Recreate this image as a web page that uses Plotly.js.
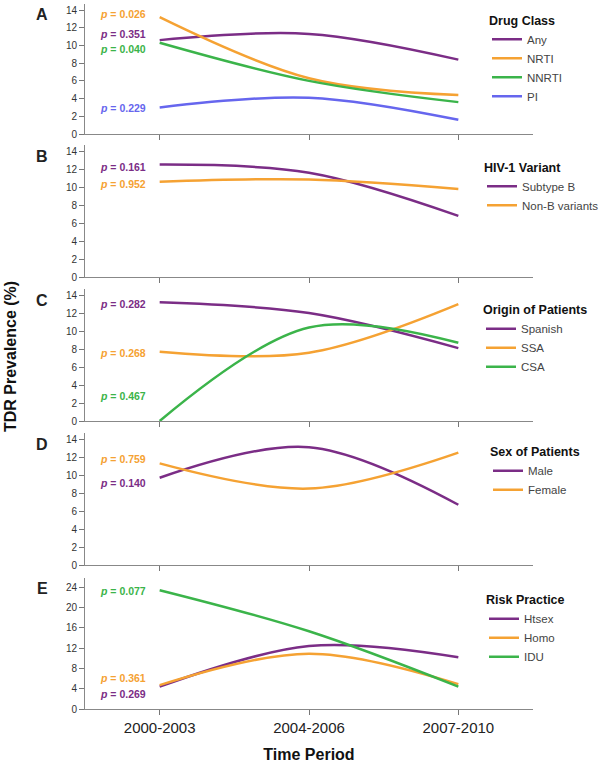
<!DOCTYPE html>
<html>
<head>
<meta charset="utf-8">
<script src="https://cdn.plot.ly/plotly-3.0.1.min.js"></script>
<style>
  html, body { margin: 0; padding: 0; background: #fff; }
  #chart { width: 602px; height: 763px; }
</style>
</head>
<body>
<div id="chart"></div>
<script>
// periods on the x axis
const periods = ['2000-2003', '2004-2006', '2007-2010'];

// A - drug class
const anyDrug = [10.6, 11.3, 8.4];
const nrti = [13.2, 6.3, 4.4];
const nnrti = [10.3, 6.0, 3.6];
const pi = [3.0, 4.1, 1.6];
// B - HIV-1 variant
const subtypeB = [12.5, 11.6, 6.8];
const nonB = [10.6, 10.85, 9.8];
// C - origin of patients
const spanish = [13.2, 12.0, 8.1];
const ssa = [7.7, 7.6, 13.0];
const csa = [0, 10.4, 8.7];
// D - sex of patients
const male = [9.7, 13.1, 6.7];
const female = [11.3, 8.5, 12.5];
// E - risk practice
const htsex = [4.4, 12.4, 10.2];
const homo = [4.7, 10.9, 4.9];
const idu = [23.4, 15.3, 4.4];

const purple = '#7B2D86', orange = '#F5A233', green = '#3BB44A', blue = '#6666EE';

// panels : letter, legend title, series, p values
const panels = [
  { letter: 'A', title: 'Drug Class', ymax: 14.68, dtick: 2,
    series: [['Any', anyDrug, purple], ['NRTI', nrti, orange], ['NNRTI', nnrti, green], ['PI', pi, blue]],
    pvals: [['0.026', orange, 14], ['0.351', purple, 33.7], ['0.040', green, 49], ['0.229', blue, 108]] },
  { letter: 'B', title: 'HIV-1 Variant', ymax: 14.68, dtick: 2,
    series: [['Subtype B', subtypeB, purple], ['Non-B variants', nonB, orange]],
    pvals: [['0.161', purple, 166.7], ['0.952', orange, 184.3]] },
  { letter: 'C', title: 'Origin of Patients', ymax: 14.68, dtick: 2,
    series: [['Spanish', spanish, purple], ['SSA', ssa, orange], ['CSA', csa, green]],
    pvals: [['0.282', purple, 304], ['0.268', orange, 352.7], ['0.467', green, 396]] },
  { letter: 'D', title: 'Sex of Patients', ymax: 14.68, dtick: 2,
    series: [['Male', male, purple], ['Female', female, orange]],
    pvals: [['0.759', orange, 459], ['0.140', purple, 482.7]] },
  { letter: 'E', title: 'Risk Practice', ymax: 25.8, dtick: 4,
    series: [['Htsex', htsex, purple], ['Homo', homo, orange], ['IDU', idu, green]],
    pvals: [['0.077', green, 591], ['0.361', orange, 677.7], ['0.269', purple, 694]] }
];

// pixel layout of the panels (top, bottom) and legends
const H = 763, W = 602;
const panelPx = [[4, 134], [145, 277], [289, 421], [433, 565], [578, 709]];
const letterPx = [14, 156.7, 300.7, 444, 588.3];
const legendPx = [[487, 8.5], [482, 155.5], [481, 298], [488, 440], [484, 588]];
const py = px => 1 - px / H;

const data = [];
const annotations = [];
const layout = {
  width: W, height: H,
  margin: { l: 0, r: 0, t: 0, b: 0, autoexpand: false },
  paper_bgcolor: '#fff', plot_bgcolor: '#fff',
  font: { family: 'Liberation Sans, Arial, sans-serif', color: '#222' },
  showlegend: true,
  annotations: annotations
};

panels.forEach((p, i) => {
  const n = i === 0 ? '' : String(i + 1);
  const legendName = 'legend' + n;
  p.series.forEach(s => {
    data.push({
      x: periods, y: s[1], name: s[0],
      type: 'scatter', mode: 'lines',
      line: { color: s[2], width: 2.5, shape: 'spline', smoothing: 1 },
      xaxis: 'x' + n, yaxis: 'y' + n, legend: legendName,
      hoverinfo: 'skip'
    });
  });

  layout['xaxis' + n] = {
    domain: [85 / W, 533 / W],
    anchor: 'y' + n,
    type: 'category',
    range: [-0.5, 2.5],
    showline: true, linecolor: '#888', linewidth: 1,
    ticks: 'outside', ticklen: 5, tickcolor: '#777',
    showgrid: false, zeroline: false,
    showticklabels: i === 4,
    tickfont: { size: 15, color: '#222' },
    title: i === 4 ? { text: '<b>Time Period</b>', font: { size: 16, color: '#111' }, standoff: 14 } : { text: '' }
  };
  layout['yaxis' + n] = {
    domain: [py(panelPx[i][1]), py(panelPx[i][0])],
    anchor: 'x' + n,
    range: [0, p.ymax],
    dtick: p.dtick,
    showline: true, linecolor: '#888', linewidth: 1,
    ticks: 'outside', ticklen: 5, tickcolor: '#777',
    showgrid: false, zeroline: false,
    tickfont: { size: 10, color: '#333' }
  };
  layout[legendName] = {
    x: legendPx[i][0] / W, y: py(legendPx[i][1]),
    xanchor: 'left', yanchor: 'top',
    bgcolor: 'rgba(0,0,0,0)',
    title: { text: '<b>' + p.title + '</b>', font: { size: 12.5, color: '#111' }, side: 'top' },
    font: { size: 11.5, color: '#444' },
    itemwidth: 30
  };

  annotations.push({
    text: '<b>' + p.letter + '</b>', xref: 'paper', yref: 'paper',
    x: 42 / W, y: py(letterPx[i]), xanchor: 'center', yanchor: 'middle',
    showarrow: false, font: { size: 16, color: '#222' }
  });
  p.pvals.forEach(v => {
    annotations.push({
      text: '<b><i>p</i> = ' + v[0] + '</b>', xref: 'paper', yref: 'paper',
      x: 148 / W, y: py(v[2]), xanchor: 'right', yanchor: 'middle',
      showarrow: false, font: { size: 10.5, color: v[1] }
    });
  });
});

annotations.push({
  text: '<b>TDR Prevalence (%)</b>', xref: 'paper', yref: 'paper',
  x: 10 / W, y: py(357), xanchor: 'center', yanchor: 'middle',
  textangle: -90, showarrow: false, font: { size: 16, color: '#111' }
});

Plotly.newPlot('chart', data, layout, { displayModeBar: false, staticPlot: true });
</script>
</body>
</html>
